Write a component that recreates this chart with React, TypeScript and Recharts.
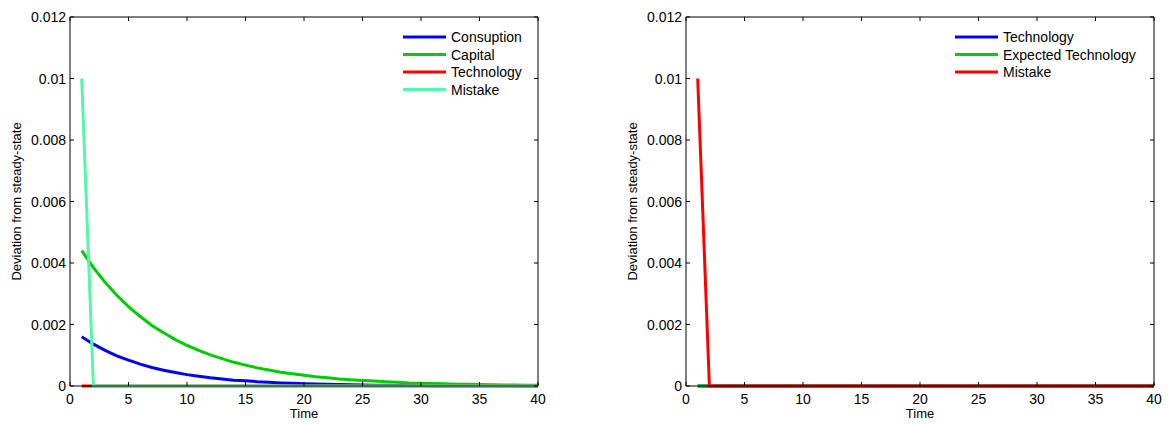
import React from "react";
import { LineChart, Line, XAxis, YAxis } from "recharts";

// time axis: periods 1..40
const periods = [
  1, 2, 3, 4, 5, 6, 7, 8, 9, 10, 11, 12, 13, 14, 15, 16, 17, 18, 19, 20,
  21, 22, 23, 24, 25, 26, 27, 28, 29, 30, 31, 32, 33, 34, 35, 36, 37, 38, 39, 40,
];

// left panel series
const consumption = [
  0.0016, 0.00136, 0.00116, 0.00098, 0.00084, 0.00071, 0.0006, 0.00051, 0.00044, 0.00037,
  0.00032, 0.00027, 0.00023, 0.00019, 0.00017, 0.00014, 0.00012, 0.0001, 0.000087, 0.000074,
  0.000063, 0.000053, 0.000045, 0.000038, 0.000033, 0.000028, 0.000024, 0.00002, 0.000017, 0.000015,
  0.000012, 0.00001, 0.000009, 0.000008, 0.000007, 0.000006, 0.000005, 0.000004, 0.000003, 0.000003,
];
const capital = [
  0.0044, 0.00385, 0.00337, 0.00295, 0.00258, 0.00226, 0.00197, 0.00173, 0.00151, 0.00132,
  0.00116, 0.00101, 0.00089, 0.00077, 0.00068, 0.00059, 0.00052, 0.00045, 0.0004, 0.00035,
  0.0003, 0.00027, 0.00023, 0.0002, 0.00018, 0.00016, 0.00014, 0.00012, 0.0001, 0.00009,
  0.00008, 0.00007, 0.00006, 0.000054, 0.000047, 0.000041, 0.000036, 0.000032, 0.000028, 0.000024,
];
const technology = [
  0, 0, 0, 0, 0, 0, 0, 0, 0, 0, 0, 0, 0, 0, 0, 0, 0, 0, 0, 0,
  0, 0, 0, 0, 0, 0, 0, 0, 0, 0, 0, 0, 0, 0, 0, 0, 0, 0, 0, 0,
];
const mistake = [
  0.01, 0, 0, 0, 0, 0, 0, 0, 0, 0, 0, 0, 0, 0, 0, 0, 0, 0, 0, 0,
  0, 0, 0, 0, 0, 0, 0, 0, 0, 0, 0, 0, 0, 0, 0, 0, 0, 0, 0, 0,
];
// right panel
const expectedTechnology = [
  0, 0, 0, 0, 0, 0, 0, 0, 0, 0, 0, 0, 0, 0, 0, 0, 0, 0, 0, 0,
  0, 0, 0, 0, 0, 0, 0, 0, 0, 0, 0, 0, 0, 0, 0, 0, 0, 0, 0, 0,
];

const xTicks = [0, 5, 10, 15, 20, 25, 30, 35, 40];
const yTicks = [0, 0.002, 0.004, 0.006, 0.008, 0.01, 0.012];

const data = periods.map((t, i) => ({
  t,
  cons: consumption[i],
  cap: capital[i],
  tech: technology[i],
  mis: mistake[i],
  etech: expectedTechnology[i],
}));

const BLUE = "#0000ff";
const GREEN = "#00cc00";
const RED = "#ff0000";
const AQUA = "#55f7a8";
const FONT = "'Liberation Sans', Arial, sans-serif";

// matlab-style ticks pointing into the plot box
const BottomTick = ({ x, y, payload }: any) => (
  <g>
    <line x1={x} y1={y} x2={x} y2={y - 4} stroke="#000" />
    <text x={x} y={y + 18} textAnchor="middle" fontSize={14} fontFamily={FONT} fill="#000">
      {payload.value}
    </text>
  </g>
);
const TopTick = ({ x, y }: any) => <line x1={x} y1={y} x2={x} y2={y + 4} stroke="#000" />;
const LeftTick = ({ x, y, payload }: any) => (
  <g>
    <line x1={x} y1={y} x2={x + 4} y2={y} stroke="#000" />
    <text x={x - 4} y={y + 5} textAnchor="end" fontSize={14} fontFamily={FONT} fill="#000">
      {String(payload.value)}
    </text>
  </g>
);
const RightTick = ({ x, y }: any) => <line x1={x} y1={y} x2={x - 4} y2={y} stroke="#000" />;

const LegendBox = ({ items, left, top }: { items: { name: string; color: string }[]; left: number; top: number }) => (
  <svg style={{ position: "absolute", left, top }} width={200} height={items.length * 17.5 + 4}>
    {items.map((it, i) => (
      <g key={it.name}>
        <line x1={0} x2={43} y1={9 + i * 17.5} y2={9 + i * 17.5} stroke={it.color} strokeWidth={3} />
        <text x={48} y={14 + i * 17.5} fontSize={14} fontFamily={FONT} fill="#000">
          {it.name}
        </text>
      </g>
    ))}
  </svg>
);

function Panel({ children }: { children: React.ReactNode }) {
  return (
    <LineChart width={560} height={424} data={data} margin={{ top: 16, right: 21, left: 0, bottom: 37 }}>
      <XAxis
        dataKey="t"
        type="number"
        domain={[0, 40]}
        ticks={xTicks}
        interval={0}
        tickSize={0}
        tickMargin={0}
        tick={<BottomTick />}
        axisLine={{ stroke: "#000" }}
        height={1}
        label={{ value: "Time", position: "bottom", offset: 22, fontSize: 13, fontFamily: FONT, fill: "#000" }}
      />
      <XAxis
        xAxisId="top"
        dataKey="t"
        orientation="top"
        type="number"
        domain={[0, 40]}
        ticks={xTicks}
        interval={0}
        tickSize={0}
        tickMargin={0}
        tick={<TopTick />}
        axisLine={{ stroke: "#000" }}
        height={1}
      />
      <YAxis
        type="number"
        domain={[0, 0.012]}
        ticks={yTicks}
        interval={0}
        tickSize={0}
        tickMargin={0}
        tick={<LeftTick />}
        axisLine={{ stroke: "#000" }}
        width={70}
        label={{
          value: "Deviation from steady-state",
          angle: -90,
          position: "insideLeft",
          offset: 16,
          style: { textAnchor: "middle", fontSize: 13, fontFamily: FONT, fill: "#000" },
        }}
      />
      <YAxis
        yAxisId="right"
        orientation="right"
        type="number"
        domain={[0, 0.012]}
        ticks={yTicks}
        interval={0}
        tickSize={0}
        tickMargin={0}
        tick={<RightTick />}
        axisLine={{ stroke: "#000" }}
        width={1}
      />
      {/* invisible helper series so the box axes (top/right) get a scale */}
      <Line
        xAxisId="top"
        yAxisId="right"
        dataKey="tech"
        stroke="none"
        dot={false}
        activeDot={false}
        legendType="none"
        isAnimationActive={false}
      />
      {children}
    </LineChart>
  );
}

export default function App() {
  return (
    <div style={{ position: "absolute", left: 0, top: 0, width: 1168, height: 424, background: "#fff" }}>
      <div style={{ position: "absolute", left: 0, top: 0 }}>
        <Panel>
          <Line dataKey="cons" stroke={BLUE} strokeWidth={3} dot={false} isAnimationActive={false} />
          <Line dataKey="cap" stroke={GREEN} strokeWidth={3} dot={false} isAnimationActive={false} />
          <Line dataKey="tech" stroke={RED} strokeWidth={3} dot={false} isAnimationActive={false} />
          <Line dataKey="mis" stroke={AQUA} strokeWidth={3} dot={false} isAnimationActive={false} />
        </Panel>
      </div>
      <LegendBox
        left={403}
        top={28}
        items={[
          { name: "Consuption", color: BLUE },
          { name: "Capital", color: GREEN },
          { name: "Technology", color: RED },
          { name: "Mistake", color: AQUA },
        ]}
      />
      <div style={{ position: "absolute", left: 616, top: 0 }}>
        <Panel>
          <Line dataKey="tech" stroke={BLUE} strokeWidth={3} dot={false} isAnimationActive={false} />
          <Line dataKey="etech" stroke={GREEN} strokeWidth={3} dot={false} isAnimationActive={false} />
          <Line dataKey="mis" stroke={RED} strokeWidth={3} dot={false} isAnimationActive={false} />
        </Panel>
      </div>
      <LegendBox
        left={955}
        top={28}
        items={[
          { name: "Technology", color: BLUE },
          { name: "Expected Technology", color: GREEN },
          { name: "Mistake", color: RED },
        ]}
      />
    </div>
  );
}
